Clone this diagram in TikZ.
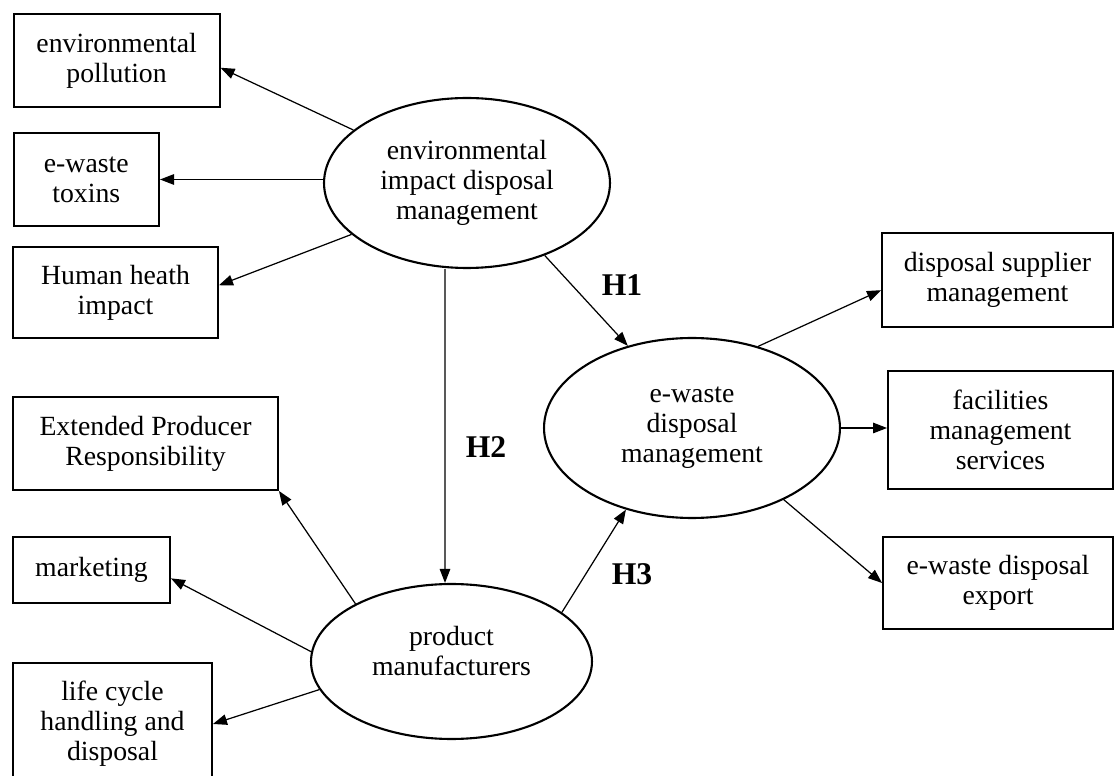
\documentclass[tikz,border=0pt]{standalone}
\usepackage{fontspec}
\setmainfont{Liberation Serif}
\usetikzlibrary{shapes.geometric,arrows.meta}

\begin{document}
\begin{tikzpicture}[x=0.02cm, y=-0.02cm,
    box/.style={draw, line width=1.1pt, inner sep=0pt, align=center, font=\fontsize{15.8}{17}\selectfont},
    latent/.style={ellipse, draw, line width=1.2pt, inner sep=0pt, align=center, font=\fontsize{15.8}{17}\selectfont},
    link/.style={-{Triangle[length=8pt,width=6pt]}, line width=0.7pt},
    hyp/.style={font=\fontsize{18}{20}\selectfont\bfseries}]
    \useasboundingbox (0,0) rectangle (1116,776);
    \clip (0,0) rectangle (1116,776);

    % Латентные переменные (эллипсы)
    \node[latent, minimum width=5.72cm, minimum height=3.4cm] (env) at (467,183) {environmental\\impact disposal\\management};
    \node[latent, minimum width=5.92cm, minimum height=3.6cm] (ewaste) at (692,428) {e-waste\\disposal\\management};
    \node[latent, minimum width=5.62cm, minimum height=3.1cm] (prod) at (451.5,661.5) {product\\manufacturers\\[-5pt]};

    % Индикаторы слева сверху
    \node[box, minimum width=4.12cm, minimum height=1.86cm] (pollution) at (116.6,60.5) {environmental\\pollution};
    \node[box, minimum width=2.91cm, minimum height=1.86cm] (toxins) at (86.3,179.5) {e-waste\\toxins};
    \node[box, minimum width=4.10cm, minimum height=1.82cm] (heath) at (115.5,292.5) {Human heath\\impact};

    % Индикаторы слева снизу
    \node[box, minimum width=5.30cm, minimum height=1.86cm] (epr) at (145.5,443.5) {Extended Producer\\Responsibility};
    \node[box, minimum width=3.14cm, minimum height=1.32cm] (marketing) at (91.5,570) {marketing};
    \node[box, minimum width=3.98cm, minimum height=2.44cm] (lifecycle) at (112.5,724) {life cycle\\handling and\\disposal};

    % Индикаторы справа
    \node[box, minimum width=4.62cm, minimum height=1.88cm] (supplier) at (997.5,280) {disposal supplier\\management};
    \node[box, minimum width=4.50cm, minimum height=2.36cm] (facilities) at (1000.5,430) {facilities\\management\\services};
    \node[box, minimum width=4.60cm, minimum height=1.84cm] (export) at (998,583) {e-waste disposal\\export};

    % Стрелки к индикаторам
    \draw[link] (env.155) -- (pollution.-4);
    \draw[link] (env.west |- toxins.east) -- (toxins.east);
    \draw[link] (env.204) -- (heath.4);
    \draw[link] (ewaste.51) -- (supplier.185);
    \draw[link] (ewaste.east) -- (ewaste.east -| facilities.west);
    \draw[link] (ewaste.-38) -- (export.west);
    \draw[link] (prod.149) -- (epr.south east);
    \draw[link] (prod.176) -- (marketing.-6);
    \draw[link] (prod.192) -- (lifecycle.east);

    % Гипотезы H1--H3
    \draw[link] (env.-43) -- (ewaste.128);
    \draw[link] ([xshift=-0.44cm]env.south) -- ([xshift=-0.13cm]prod.north);
    \draw[link] (prod.24) -- (ewaste.231);
    \node[hyp] (h1) at (622,285) {H1};
    \node[hyp] (h2) at (486,447) {H2};
    \node[hyp] (h3) at (632,574) {H3};
\end{tikzpicture}
\end{document}
